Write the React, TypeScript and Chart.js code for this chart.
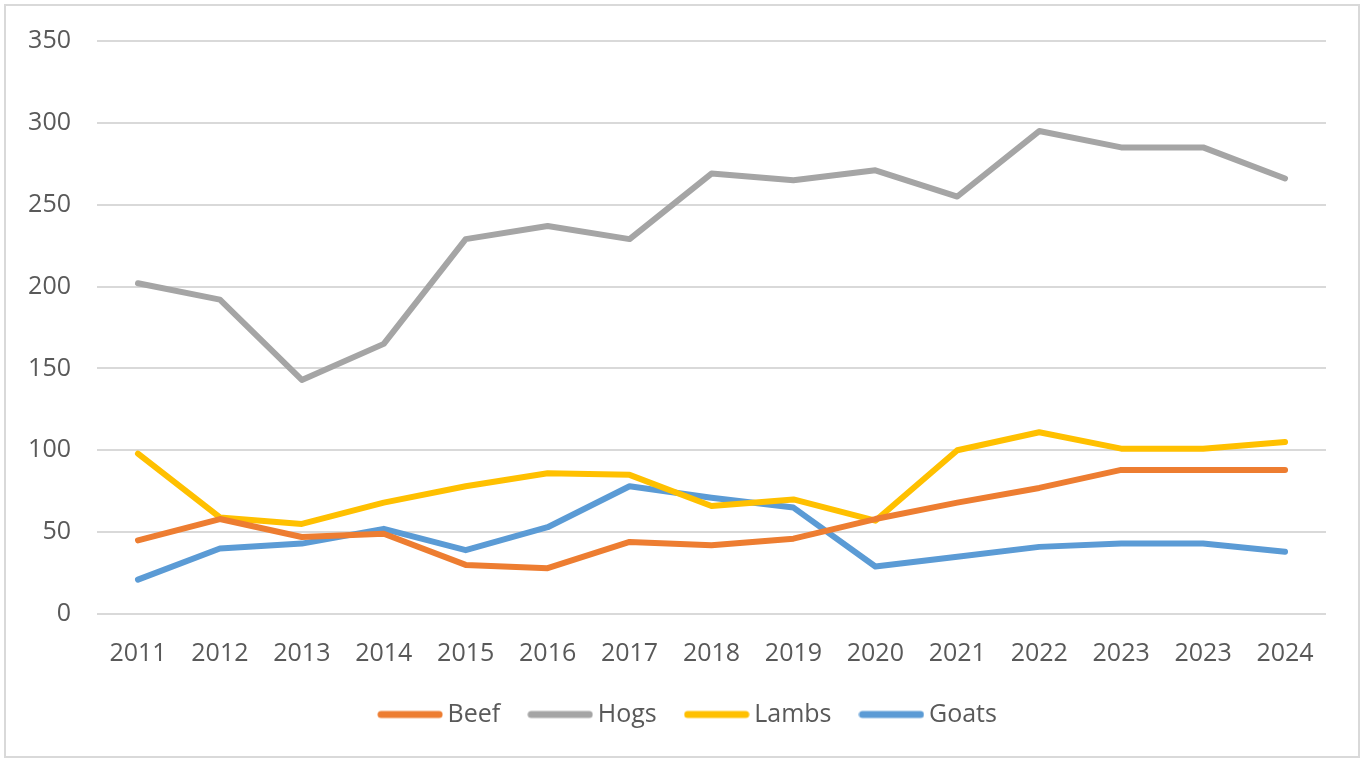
import React, { useEffect, useRef } from "react";
import { Chart, registerables } from "chart.js";

Chart.register(...registerables);

const categories = ["2011", "2012", "2013", "2014", "2015", "2016", "2017", "2018", "2019", "2020", "2021", "2022", "2023", "2023", "2024"];
const beef = [45, 58, 47, 49, 30, 28, 44, 42, 46, 58, 68, 77, 88, 88, 88];
const hogs = [202, 192, 143, 165, 229, 237, 229, 269, 265, 271, 255, 295, 285, 285, 266];
const lambs = [98, 59, 55, 68, 78, 86, 85, 66, 70, 57, 100, 111, 101, 101, 105];
const goats = [21, 40, 43, 52, 39, 53, 78, 71, 65, 29, 35, 41, 43, 43, 38];

const FONT = "'Open Sans', 'Noto Sans', sans-serif";
const TEXT = "#595959";

function legendLine(color: string): HTMLCanvasElement {
  const c = document.createElement("canvas");
  c.width = 66;
  c.height = 10;
  const g = c.getContext("2d")!;
  g.strokeStyle = color;
  g.lineWidth = 7;
  g.lineCap = "round";
  g.beginPath();
  g.moveTo(4, 5);
  g.lineTo(62, 5);
  g.stroke();
  return c;
}

const shiftLegend = {
  id: "shiftLegend",
  afterLayout(chart: any) {
    const lg = chart.legend;
    if (lg) {
      lg.left += 23;
      lg.right += 23;
    }
  },
};

export default function App() {
  const ref = useRef<HTMLCanvasElement | null>(null);

  useEffect(() => {
    if (!ref.current) return;
    const mk = (label: string, data: number[], color: string) => ({
      label,
      data,
      borderColor: color,
      backgroundColor: color,
      borderWidth: 6,
      pointRadius: 0,
      pointHoverRadius: 0,
      borderCapStyle: "round" as const,
      borderJoinStyle: "round" as const,
      tension: 0,
      fill: false,
    });
    const chart = new Chart(ref.current, {
      type: "line",
      data: {
        labels: categories,
        datasets: [
          mk("Beef", beef, "#ED7D31"),
          mk("Hogs", hogs, "#A5A5A5"),
          mk("Lambs", lambs, "#FFC000"),
          mk("Goats", goats, "#5B9BD5"),
        ],
      },
      plugins: [shiftLegend],
      options: {
        animation: false,
        responsive: false,
        maintainAspectRatio: false,
        layout: { padding: { left: 10, right: 35, top: 40, bottom: 22 } },
        plugins: {
          tooltip: { enabled: false },
          legend: {
            position: "bottom",
            labels: {
              usePointStyle: true,
              pointStyleWidth: 50,
              boxWidth: 50,
              padding: 35,
              color: TEXT,
              font: { family: FONT, size: 25 },
              generateLabels: (ch: any) => {
                const items = Chart.defaults.plugins.legend.labels.generateLabels(ch);
                return items.map((it: any) => ({
                  ...it,
                  pointStyle: legendLine(ch.data.datasets[it.datasetIndex].borderColor as string),
                }));
              },
            },
          },
        },
        scales: {
          x: {
            offset: true,
            grid: { display: false, drawTicks: false },
            border: { display: false },
            ticks: { color: TEXT, font: { family: FONT, size: 25 }, padding: 25, maxRotation: 0, autoSkip: false },
            afterFit: (s: any) => { s.height = 53; },
          },
          y: {
            min: 0,
            max: 350,
            ticks: { stepSize: 50, color: TEXT, font: { family: FONT, size: 25 }, padding: 26 },
            grid: { color: "#d9d9d9", lineWidth: 2, drawTicks: false },
            border: { display: false },
            afterFit: (s: any) => { s.width = 87; },
          },
        },
      },
    });
    return () => chart.destroy();
  }, []);

  return (
    <div style={{ position: "fixed", left: 0, top: 0, width: 1361, height: 759, background: "#fff" }}>
      <canvas ref={ref} width={1361} height={759} style={{ position: "absolute", left: 0, top: 0, width: 1361, height: 759 }} />
      <div style={{ position: "absolute", left: 4, top: 4, width: 1352, height: 750, border: "2px solid #d9d9d9", pointerEvents: "none" }} />
    </div>
  );
}
